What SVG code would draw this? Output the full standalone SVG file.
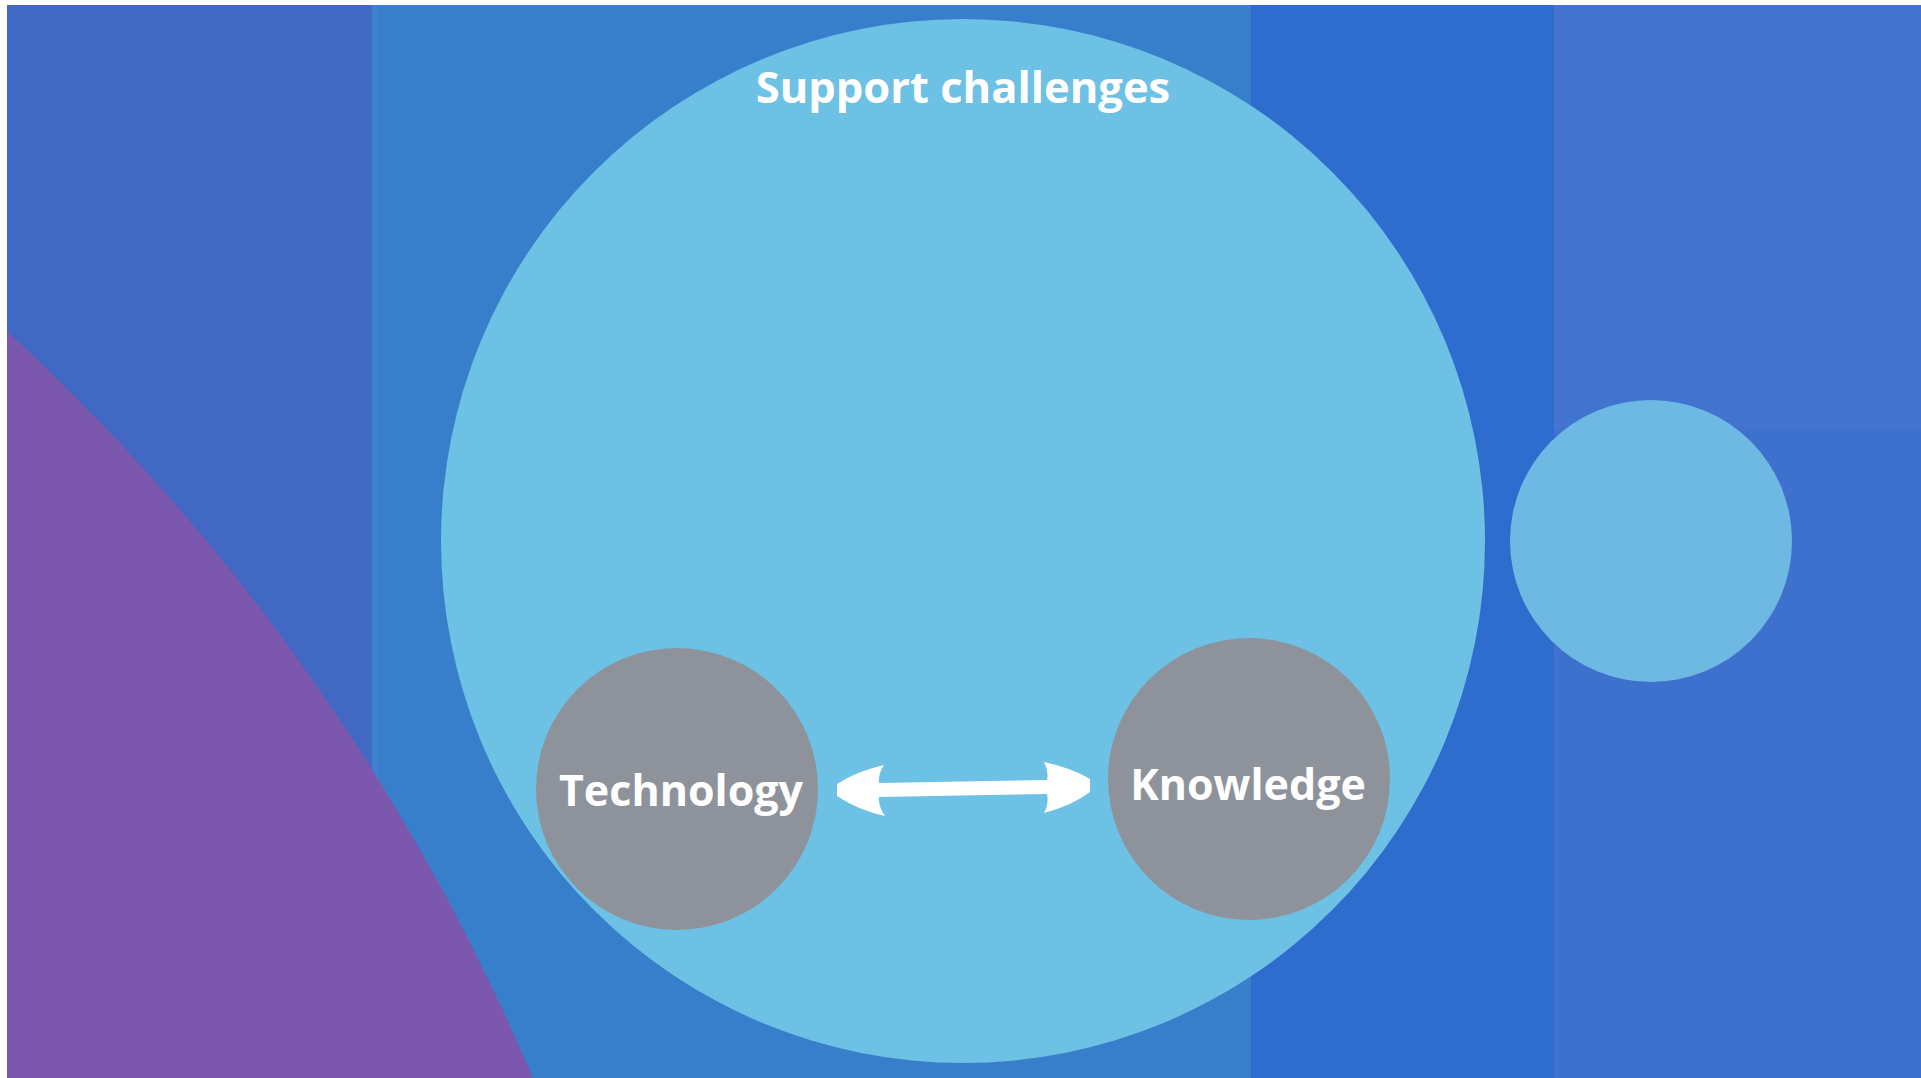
<svg xmlns="http://www.w3.org/2000/svg" width="1921" height="1078" viewBox="0 0 1921 1078">
  <style>
    .lbl { font-family: "Open Sans", "Noto Sans", "Liberation Sans", sans-serif; font-weight: 700; font-size: 43px; fill: #ffffff; text-anchor: middle; }
    .inner { fill: #8E939B; }
  </style>
  <g id="background">
    <rect x="0" y="0" width="1921" height="1078" fill="#ffffff"/>
    <rect x="7" y="5" width="366" height="1073" fill="#4169C3"/>
    <rect x="372" y="5" width="880" height="1073" fill="#387FCB"/>
    <rect x="372" y="5" width="6" height="1073" fill="#4580D2" opacity="0.7"/>
    <rect x="1251" y="5" width="306" height="1073" fill="#2E6CCE"/>
    <rect x="1554" y="5" width="367" height="1073" fill="#4274CF"/>
    <rect x="1554" y="5" width="5" height="1073" fill="#4C75D0" opacity="0.7"/>
    <rect x="1554" y="430" width="367" height="648" fill="#3A6CCB" opacity="0.4"/>
    <clipPath id="clipBg"><rect x="7" y="5" width="1914" height="1073"/></clipPath>
    <circle cx="-1448" cy="1914" r="2150" fill="#7B57AD" clip-path="url(#clipBg)"/>
  </g>
  <g id="support-challenges">
    <circle cx="963" cy="541" r="522" fill="#6DC1E5"/>
    <text class="lbl" x="963" y="103" style="font-size:43.5px">Support challenges</text>
  </g>
  <g id="extra-circle">
    <circle cx="1651" cy="541" r="141" fill="#6DB9E4"/>
  </g>
  <g id="technology">
    <circle class="inner" cx="677" cy="789" r="141"/>
    <text class="lbl" x="681" y="806">Technology</text>
  </g>
  <g id="knowledge">
    <circle class="inner" cx="1249" cy="779" r="141"/>
    <text class="lbl" x="1248" y="800">Knowledge</text>
  </g>
  <g id="connectors">
    <path fill="#ffffff" d="M 837 784 Q 857 771 884 765 Q 878 774 879 783 L 1047 780 Q 1049 771 1044 762 Q 1072 768 1090 779 L 1090 792 Q 1071 806 1044 813 Q 1049 804 1047 794 L 879 797 Q 878 806 885 816 Q 858 810 837 796 Z"/>
  </g>
</svg>
